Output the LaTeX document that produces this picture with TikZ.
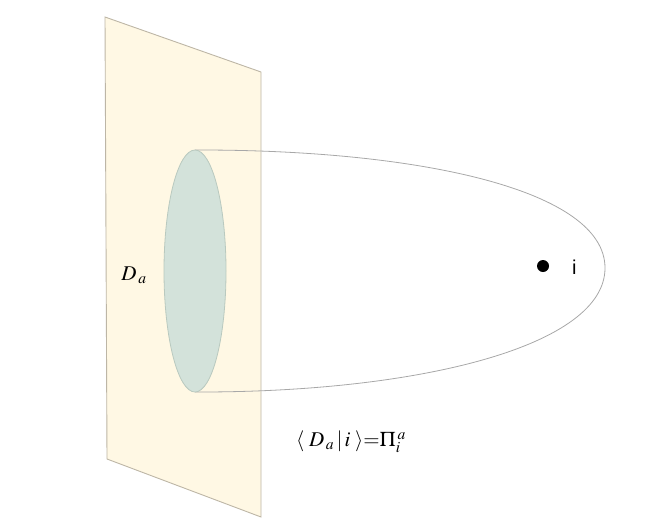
\documentclass[tikz,border=0pt]{standalone}
\usepackage{fontspec}
\usepackage{mathptmx}
\newfontfamily\labelsans{Liberation Sans}
\definecolor{planefill}{HTML}{FFF8E4}
\definecolor{planeedge}{HTML}{BDB6A6}
\definecolor{discfill}{HTML}{D3E2DA}
\definecolor{discedge}{HTML}{B9C9BF}
\definecolor{curveedge}{HTML}{A8A8A8}
\tikzset{
  plane/.style={fill=planefill, draw=planeedge, line width=0.9pt},
  disc/.style={fill=discfill, draw=discedge, line width=0.8pt},
  outline/.style={draw=curveedge, line width=0.8pt},
  mathlbl/.style={inner sep=0pt, font=\fontsize{21}{25}\selectfont},
  sanslbl/.style={inner sep=0pt, font=\labelsans\fontsize{20}{24}\selectfont},
  point/.style={circle, fill=black, inner sep=0pt, minimum size=12pt}
}
\begin{document}
\begin{tikzpicture}[x=1pt,y=-1pt]
\useasboundingbox (0,0) rectangle (664,523);
% plane
\draw[plane] (105,17) -- (261,72) -- (261,517) -- (107,459) -- cycle;
% outer curve
\coordinate (top) at (195,150);
\coordinate (tip) at (605,268);
\coordinate (bot) at (195,392);
\draw[outline] (top) -- (200,150) .. controls (420,150) and (605,190) .. (tip)
  .. controls (605,346) and (420,392) .. (200,392) -- (bot);
% disc
\draw[disc] (195,271) ellipse [x radius=31, y radius=121];
% labels
\node[mathlbl] (da) at (134,275) {$D_{\,a}$};
\node[point] (pt) at (543,266) {};
\node[sanslbl, anchor=west] (ilbl) at (572,267) {i};
\node[mathlbl] (formula) at (351,442) {$\langle\;D_{\,a}\,|\,i\;\rangle{=}\Pi_{i}^{\,a}$};
\end{tikzpicture}
\end{document}
